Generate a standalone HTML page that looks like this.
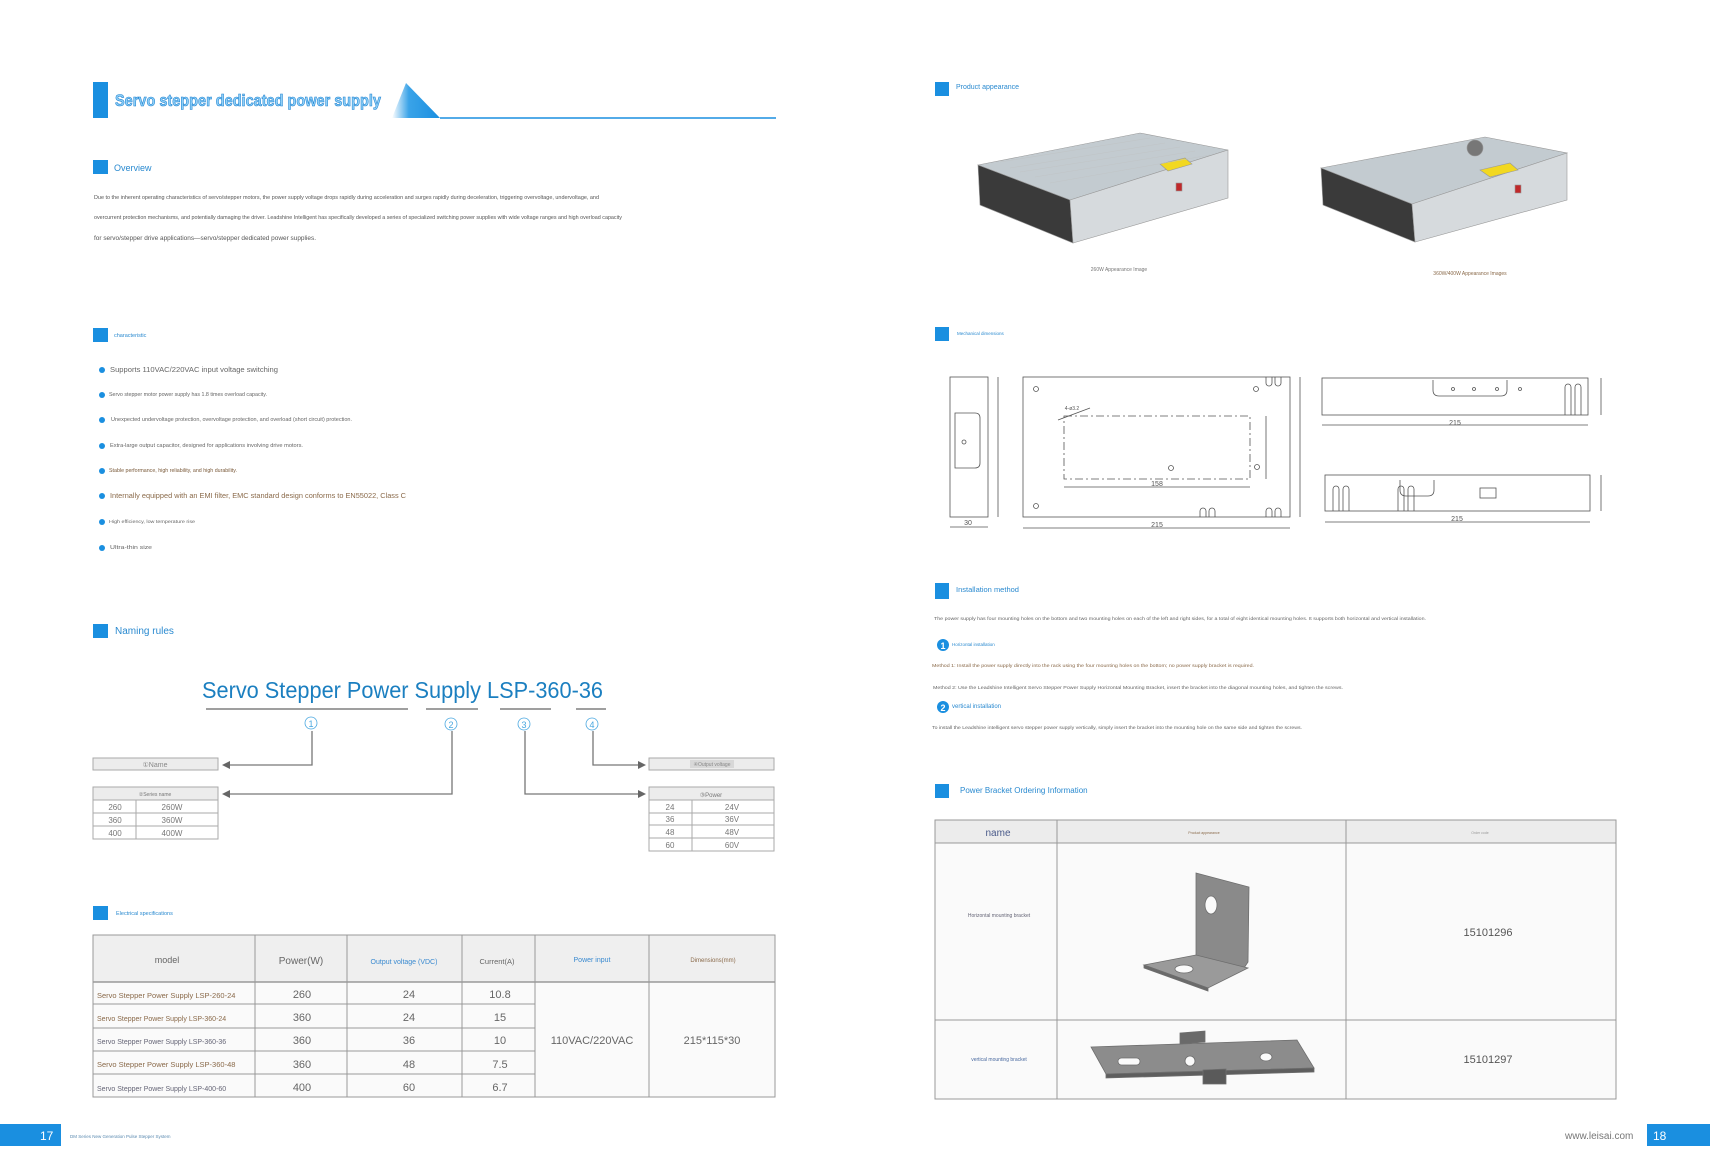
<!DOCTYPE html>
<html><head><meta charset="utf-8"><style>
html,body{margin:0;padding:0;background:#fff;}
svg{display:block;}
text{font-family:"Liberation Sans Narrow","Liberation Sans",sans-serif;}
</style></head><body>
<svg width="1710" height="1168" viewBox="0 0 1710 1168" xmlns="http://www.w3.org/2000/svg">
<defs>
<linearGradient id="tri" x1="0" x2="1" y1="0" y2="0"><stop offset="0" stop-color="#fff"/><stop offset="0.35" stop-color="#3aa3e8"/><stop offset="1" stop-color="#1a8fe0"/></linearGradient>
<linearGradient id="metal" x1="0" x2="1" y1="0" y2="1"><stop offset="0" stop-color="#c9d0d4"/><stop offset="1" stop-color="#a8b0b5"/></linearGradient>
</defs>
<!-- LEFT HEADER -->
<rect x="93" y="82" width="15" height="36" fill="#1a8fe0"/>
<text x="115" y="106" font-size="17" font-weight="bold" fill="#8fd0f7" stroke="#1a7fd0" stroke-width="0.6" textLength="266" lengthAdjust="spacingAndGlyphs">Servo stepper dedicated power supply</text>
<polygon points="392,118 406,83 440,118" fill="url(#tri)"/>
<line x1="440" y1="118" x2="776" y2="118" stroke="#1a8fe0" stroke-width="1.5"/>

<rect x="93" y="160" width="15" height="14" fill="#1a8fe0"/>
<text x="114" y="171" font-size="9" fill="#2a8ad0">Overview</text>
<g font-size="5.2" fill="#555">
<text x="94" y="199" textLength="505" lengthAdjust="spacingAndGlyphs">Due to the inherent operating characteristics of servo/stepper motors, the power supply voltage drops rapidly during acceleration and surges rapidly during deceleration, triggering overvoltage, undervoltage, and</text>
<text x="94" y="219" textLength="528" lengthAdjust="spacingAndGlyphs">overcurrent protection mechanisms, and potentially damaging the driver. Leadshine Intelligent has specifically developed a series of specialized switching power supplies with wide voltage ranges and high overload capacity</text>
<text x="94" y="240" font-size="6" textLength="222" lengthAdjust="spacingAndGlyphs">for servo/stepper drive applications—servo/stepper dedicated power supplies.</text>
</g>

<rect x="93" y="328" width="15" height="14" fill="#1a8fe0"/>
<text x="114" y="337" font-size="5.5" fill="#2a8ad0">characteristic</text>
<g fill="#1a8fe0">
<circle cx="102" cy="370" r="3"/><circle cx="102" cy="395" r="3"/><circle cx="102" cy="420" r="3"/><circle cx="102" cy="446" r="3"/>
<circle cx="102" cy="471" r="3"/><circle cx="102" cy="496" r="3"/><circle cx="102" cy="522" r="3"/><circle cx="102" cy="548" r="3"/>
</g>
<g fill="#666">
<text x="110" y="372" font-size="7.5" textLength="168" lengthAdjust="spacingAndGlyphs">Supports 110VAC/220VAC input voltage switching</text>
<text x="109" y="396" font-size="5" textLength="158" lengthAdjust="spacingAndGlyphs">Servo stepper motor power supply has 1.8 times overload capacity.</text>
<text x="111" y="421" font-size="5" textLength="241" lengthAdjust="spacingAndGlyphs">Unexpected undervoltage protection, overvoltage protection, and overload (short circuit) protection.</text>
<text x="110" y="447" font-size="5" textLength="193" lengthAdjust="spacingAndGlyphs">Extra-large output capacitor, designed for applications involving drive motors.</text>
<text x="109" y="472" font-size="5" fill="#7a5a3a" textLength="128" lengthAdjust="spacingAndGlyphs">Stable performance, high reliability, and high durability.</text>
<text x="110" y="498" font-size="7" fill="#8a6a4a" textLength="296" lengthAdjust="spacingAndGlyphs">Internally equipped with an EMI filter, EMC standard design conforms to EN55022, Class C</text>
<text x="109" y="523" font-size="4.5" textLength="86" lengthAdjust="spacingAndGlyphs">High efficiency, low temperature rise</text>
<text x="110" y="549" font-size="5.5" textLength="42" lengthAdjust="spacingAndGlyphs">Ultra-thin size</text>
</g>

<!-- NAMING RULES -->
<rect x="93" y="624" width="15" height="14" fill="#1a8fe0"/>
<text x="115" y="634" font-size="10" fill="#2a8ad0">Naming rules</text>
<text x="202" y="698" font-size="23" fill="#1b7fc0" textLength="401" lengthAdjust="spacingAndGlyphs">Servo Stepper Power Supply LSP-360-36</text>
<g stroke="#666" stroke-width="1.3">
<line x1="206" y1="709" x2="408" y2="709"/><line x1="426" y1="709" x2="478" y2="709"/>
<line x1="500" y1="709" x2="551" y2="709"/><line x1="576" y1="709" x2="606" y2="709"/>
</g>
<g fill="none" stroke="#4aa8e0" stroke-width="0.8"><circle cx="311" cy="723" r="6"/><circle cx="451" cy="724" r="6"/><circle cx="524" cy="724" r="6"/><circle cx="592" cy="724" r="6"/></g>
<g font-size="9" fill="#4aa8e0" text-anchor="middle"><text x="311" y="727">1</text><text x="451" y="728">2</text><text x="524" y="728">3</text><text x="592" y="728">4</text></g>
<g stroke="#777" stroke-width="1.3" fill="none">
<polyline points="312,731 312,765 228,765"/>
<polyline points="452,731 452,794 228,794"/>
<polyline points="525,731 525,794 640,794"/>
<polyline points="593,731 593,765 640,765"/>
</g>
<g fill="#666">
<polygon points="222,765 230,761 230,769"/><polygon points="222,794 230,790 230,798"/>
<polygon points="646,794 638,790 638,798"/><polygon points="646,765 638,761 638,769"/>
</g>
<rect x="93" y="758" width="125" height="12" fill="#ececec" stroke="#aaa"/>
<text x="155" y="767" font-size="7" fill="#888" text-anchor="middle">①Name</text>
<rect x="649" y="758" width="125" height="12" fill="#ececec" stroke="#aaa"/>
<rect x="690" y="760" width="44" height="8" fill="#d8d8d8"/>
<text x="712" y="766" font-size="5" fill="#888" text-anchor="middle">④Output voltage</text>
<g stroke="#aaa" fill="#fff">
<rect x="93" y="787" width="125" height="52"/>
<rect x="93" y="787" width="125" height="13" fill="#ececec"/>
<line x1="93" y1="813" x2="218" y2="813"/><line x1="93" y1="826" x2="218" y2="826"/>
<line x1="136" y1="800" x2="136" y2="839"/>
<rect x="649" y="787" width="125" height="64"/>
<rect x="649" y="787" width="125" height="13" fill="#ececec"/>
<line x1="649" y1="813" x2="774" y2="813"/><line x1="649" y1="825" x2="774" y2="825"/><line x1="649" y1="838" x2="774" y2="838"/>
<line x1="692" y1="800" x2="692" y2="851"/>
</g>
<g font-size="8" fill="#777" text-anchor="middle">
<text x="155" y="796" font-size="5">②Series name</text>
<text x="115" y="810">260</text><text x="172" y="810">260W</text>
<text x="115" y="823">360</text><text x="172" y="823">360W</text>
<text x="115" y="836">400</text><text x="172" y="836">400W</text>
<text x="711" y="797" font-size="6">③Power</text>
<text x="670" y="810">24</text><text x="732" y="810">24V</text>
<text x="670" y="822">36</text><text x="732" y="822">36V</text>
<text x="670" y="835">48</text><text x="732" y="835">48V</text>
<text x="670" y="848">60</text><text x="732" y="848">60V</text>
</g>

<!-- ELECTRICAL SPECS -->
<rect x="93" y="906" width="15" height="14" fill="#1a8fe0"/>
<text x="116" y="915" font-size="5.5" fill="#2a8ad0">Electrical specifications</text>
<rect x="93" y="935" width="682" height="47" fill="#efefef"/>
<rect x="93" y="982" width="442" height="115" fill="#fafafa"/>
<rect x="535" y="982" width="240" height="115" fill="#fafafa"/>
<g stroke="#999" stroke-width="1" fill="none">
<rect x="93" y="935" width="682" height="162"/>
<line x1="93" y1="982" x2="775" y2="982" stroke-width="1.5"/>
<line x1="93" y1="1004" x2="535" y2="1004"/><line x1="93" y1="1028" x2="535" y2="1028"/>
<line x1="93" y1="1051" x2="535" y2="1051"/><line x1="93" y1="1074" x2="535" y2="1074"/>
<line x1="255" y1="935" x2="255" y2="1097"/><line x1="347" y1="935" x2="347" y2="1097"/>
<line x1="462" y1="935" x2="462" y2="1097"/><line x1="535" y1="935" x2="535" y2="1097"/>
<line x1="649" y1="935" x2="649" y2="1097"/>
</g>
<g text-anchor="middle" fill="#666">
<text x="167" y="963" font-size="9">model</text>
<text x="301" y="964" font-size="10">Power(W)</text>
<text x="404" y="964" font-size="7" fill="#3a8ad0">Output voltage (VDC)</text>
<text x="497" y="964" font-size="7.5">Current(A)</text>
<text x="592" y="962" font-size="7" fill="#3a8ad0">Power input</text>
<text x="713" y="962" font-size="6" fill="#8a6a4a">Dimensions(mm)</text>
<g font-size="11">
<text x="302" y="998">260</text><text x="409" y="998">24</text><text x="500" y="998">10.8</text>
<text x="302" y="1021">360</text><text x="409" y="1021">24</text><text x="500" y="1021">15</text>
<text x="302" y="1044">360</text><text x="409" y="1044">36</text><text x="500" y="1044">10</text>
<text x="302" y="1068">360</text><text x="409" y="1068">48</text><text x="500" y="1068">7.5</text>
<text x="302" y="1091">400</text><text x="409" y="1091">60</text><text x="500" y="1091">6.7</text>
<text x="592" y="1044">110VAC/220VAC</text><text x="712" y="1044">215*115*30</text>
</g>
</g>
<g font-size="7.5" fill="#8a6a4a">
<text x="97" y="998">Servo Stepper Power Supply LSP-260-24</text>
<text x="97" y="1021" font-size="7">Servo Stepper Power Supply LSP-360-24</text>
<text x="97" y="1044" font-size="7" fill="#667">Servo Stepper Power Supply LSP-360-36</text>
<text x="97" y="1067">Servo Stepper Power Supply LSP-360-48</text>
<text x="97" y="1091" font-size="7" fill="#667">Servo Stepper Power Supply LSP-400-60</text>
</g>

<!-- LEFT FOOTER -->
<rect x="0" y="1124" width="61" height="22" fill="#1a8fe0"/>
<text x="40" y="1140" font-size="12" fill="#fff">17</text>
<text x="70" y="1138" font-size="4.5" fill="#5a8ab0">DM Series New Generation Pulse Stepper System</text>

<!-- RIGHT: PRODUCT APPEARANCE -->
<rect x="935" y="82" width="14" height="14" fill="#1a8fe0"/>
<text x="956" y="89" font-size="7" fill="#2a8ad0">Product appearance</text>
<g stroke="#999" stroke-width="0.6">
<polygon points="978,165 1140,133 1228,150 1070,200" fill="#c3cbd0"/>
<polygon points="978,165 1070,200 1073,243 980,205" fill="#3a3a3a"/>
<polygon points="1070,200 1228,150 1228,198 1073,243" fill="#d6dadd"/>
<polygon points="1160,164 1185,158 1192,164 1168,171" fill="#f2d820"/>
<rect x="1176" y="183" width="6" height="8" fill="#c0282a"/>
<polygon points="1321,168 1485,137 1567,153 1412,204" fill="#c3cbd0"/>
<polygon points="1321,168 1412,204 1415,242 1323,205" fill="#3a3a3a"/>
<polygon points="1412,204 1567,153 1567,200 1415,242" fill="#d6dadd"/>
<polygon points="1480,170 1510,163 1518,170 1490,177" fill="#f2d820"/>
<circle cx="1475" cy="148" r="8" fill="#777"/>
<rect x="1515" y="185" width="6" height="8" fill="#c0282a"/>
</g>
<g stroke="#c0c4c6" stroke-width="0.5" fill="none">
<path d="M1000,162 L1150,138 M1010,168 L1165,143 M1020,172 L1180,147 M1035,177 L1195,151 M1050,183 L1210,155"/>
</g>
<text x="1119" y="271" font-size="5" fill="#777" text-anchor="middle">260W Appearance Image</text>
<text x="1470" y="275" font-size="5" fill="#8a6a4a" text-anchor="middle">360W/400W Appearance Images</text>

<!-- MECHANICAL DIMENSIONS -->
<rect x="935" y="327" width="14" height="14" fill="#1a8fe0"/>
<text x="957" y="335" font-size="4.5" fill="#2a8ad0">Mechanical dimensions</text>
<g stroke="#555" stroke-width="0.8" fill="none">
<rect x="950" y="377" width="38" height="140"/>
<path d="M955,413 h20 q5,0 5,5 v45 q0,5 -5,5 h-20 z"/>
<circle cx="964" cy="442" r="2"/>
<line x1="998" y1="377" x2="998" y2="517"/><line x1="950" y1="527" x2="988" y2="527"/>
<rect x="1023" y="377" width="267" height="140"/>
<rect x="1064" y="416" width="186" height="63" stroke-dasharray="8,3,2,3"/>
<circle cx="1036" cy="389" r="2.5"/><circle cx="1256" cy="389" r="2.5"/><circle cx="1036" cy="506" r="2.5"/>
<circle cx="1171" cy="468" r="2.5"/><circle cx="1257" cy="467" r="2.5"/>
<line x1="1058" y1="420" x2="1090" y2="408"/>
<line x1="1266" y1="416" x2="1266" y2="479"/><line x1="1064" y1="487" x2="1250" y2="487"/>
<line x1="1300" y1="377" x2="1300" y2="517"/><line x1="1023" y1="528" x2="1290" y2="528"/>
<path d="M1200,517 v-6 a3,3 0 0 1 6,0 v6 M1209,517 v-6 a3,3 0 0 1 6,0 v6 M1266,517 v-6 a3,3 0 0 1 6,0 v6 M1275,517 v-6 a3,3 0 0 1 6,0 v6 M1266,377 v6 a3,3 0 0 0 6,0 v-6 M1275,377 v6 a3,3 0 0 0 6,0 v-6"/>
<rect x="1322" y="378" width="266" height="37"/>
<path d="M1433,380 v10 q0,6 6,6 h62 q6,0 6,-6 v-10"/>
<circle cx="1453" cy="389" r="1.5"/><circle cx="1474" cy="389" r="1.5"/><circle cx="1497" cy="389" r="1.5"/><circle cx="1520" cy="389" r="1.5"/>
<path d="M1565,415 v-28 a3,3 0 0 1 6,0 v28 M1575,415 v-28 a3,3 0 0 1 6,0 v28"/>
<line x1="1322" y1="425" x2="1588" y2="425"/><line x1="1601" y1="378" x2="1601" y2="415"/>
<rect x="1325" y="475" width="265" height="36"/>
<path d="M1400,480 v10 q0,6 6,6 h22 q6,0 6,-6 v-10"/><rect x="1480" y="488" width="16" height="10"/>
<path d="M1333,511 v-22 a3,3 0 0 1 6,0 v22 M1343,511 v-22 a3,3 0 0 1 6,0 v22 M1398,511 v-22 a3,3 0 0 1 6,0 v22 M1408,511 v-22 a3,3 0 0 1 6,0 v22"/>
<line x1="1325" y1="522" x2="1590" y2="522"/><line x1="1601" y1="475" x2="1601" y2="511"/>
</g>
<g font-size="7" fill="#555" text-anchor="middle">
<text x="968" y="525">30</text><text x="1157" y="527">215</text><text x="1157" y="486">158</text>
<text x="1072" y="410" font-size="5">4-ø3.2</text>
<text x="1455" y="425">215</text><text x="1457" y="521">215</text>
</g>

<!-- INSTALLATION -->
<rect x="935" y="583" width="14" height="16" fill="#1a8fe0"/>
<text x="956" y="592" font-size="7.5" fill="#2a8ad0">Installation method</text>
<text x="934" y="620" font-size="4.5" fill="#666" textLength="492" lengthAdjust="spacingAndGlyphs">The power supply has four mounting holes on the bottom and two mounting holes on each of the left and right sides, for a total of eight identical mounting holes. It supports both horizontal and vertical installation.</text>
<circle cx="943" cy="645" r="6" fill="#1a8fe0"/><text x="943" y="649" font-size="9" font-weight="bold" fill="#fff" text-anchor="middle">1</text>
<text x="952" y="646" font-size="4.5" fill="#2a8ad0">Horizontal installation</text>
<text x="932" y="667" font-size="4.8" fill="#8a6a4a" textLength="322" lengthAdjust="spacingAndGlyphs">Method 1: Install the power supply directly into the rack using the four mounting holes on the bottom; no power supply bracket is required.</text>
<text x="933" y="689" font-size="4.8" fill="#666" textLength="410" lengthAdjust="spacingAndGlyphs">Method 2: Use the Leadshine Intelligent Servo Stepper Power Supply Horizontal Mounting Bracket, insert the bracket into the diagonal mounting holes, and tighten the screws.</text>
<circle cx="943" cy="707" r="6" fill="#1a8fe0"/><text x="943" y="711" font-size="9" font-weight="bold" fill="#fff" text-anchor="middle">2</text>
<text x="952" y="708" font-size="6" fill="#2a8ad0">vertical installation</text>
<text x="932" y="729" font-size="4.8" fill="#666" textLength="370" lengthAdjust="spacingAndGlyphs">To install the Leadshine intelligent servo stepper power supply vertically, simply insert the bracket into the mounting hole on the same side and tighten the screws.</text>

<!-- BRACKET TABLE -->
<rect x="935" y="784" width="14" height="14" fill="#1a8fe0"/>
<text x="960" y="793" font-size="8" fill="#2a8ad0">Power Bracket Ordering Information</text>
<rect x="935" y="820" width="681" height="23" fill="#ececec"/>
<rect x="935" y="843" width="681" height="256" fill="#fafafa"/>
<g stroke="#999" fill="none">
<rect x="935" y="820" width="681" height="279"/>
<line x1="935" y1="843" x2="1616" y2="843"/><line x1="935" y1="1020" x2="1616" y2="1020"/>
<line x1="1057" y1="820" x2="1057" y2="1099"/><line x1="1346" y1="820" x2="1346" y2="1099"/>
</g>
<text x="998" y="836" font-size="10" fill="#4a5a8a" text-anchor="middle">name</text>
<text x="1204" y="834" font-size="3.5" fill="#8a6a4a" text-anchor="middle">Product appearance</text>
<text x="1480" y="834" font-size="3.5" fill="#999" text-anchor="middle">Order code</text>
<text x="999" y="917" font-size="5" fill="#667" text-anchor="middle">Horizontal mounting bracket</text>
<text x="999" y="1061" font-size="5" fill="#4a6aa0" text-anchor="middle">vertical mounting bracket</text>
<text x="1488" y="936" font-size="11" fill="#555" text-anchor="middle">15101296</text>
<text x="1488" y="1063" font-size="11" fill="#555" text-anchor="middle">15101297</text>
<g stroke="#6e6e6e" stroke-width="0.8">
<polygon points="1196,873 1249,887 1248,962 1244,968 1196,958" fill="#8a8a8a"/>
<polygon points="1144,965 1196,955 1248,968 1208,988" fill="#9a9a9a"/>
<polygon points="1144,965 1208,988 1208,991 1144,968" fill="#6a6a6a"/>
<ellipse cx="1211" cy="905" rx="6" ry="9" fill="#fafafa"/>
<ellipse cx="1184" cy="969" rx="9" ry="4" fill="#fafafa"/>
<polygon points="1091,1047 1297,1040 1314,1068 1106,1074" fill="#8c8c8c"/>
<polygon points="1106,1074 1314,1068 1314,1072 1106,1078" fill="#5e5e5e"/>
<polygon points="1180,1033 1205,1031 1205,1042 1180,1044" fill="#6a6a6a"/>
<polygon points="1203,1070 1226,1069 1226,1084 1203,1084" fill="#5a5a5a"/>
<rect x="1118" y="1058" width="22" height="7" rx="3.5" fill="#fafafa"/>
<circle cx="1190" cy="1061" r="5" fill="#fafafa"/>
<ellipse cx="1266" cy="1057" rx="6" ry="4" fill="#fafafa"/>
</g>

<!-- RIGHT FOOTER -->
<text x="1565" y="1139" font-size="10" fill="#777">www.leisai.com</text>
<rect x="1647" y="1124" width="63" height="22" fill="#1a8fe0"/>
<text x="1653" y="1140" font-size="12" fill="#fff">18</text>
</svg>
</body></html>
